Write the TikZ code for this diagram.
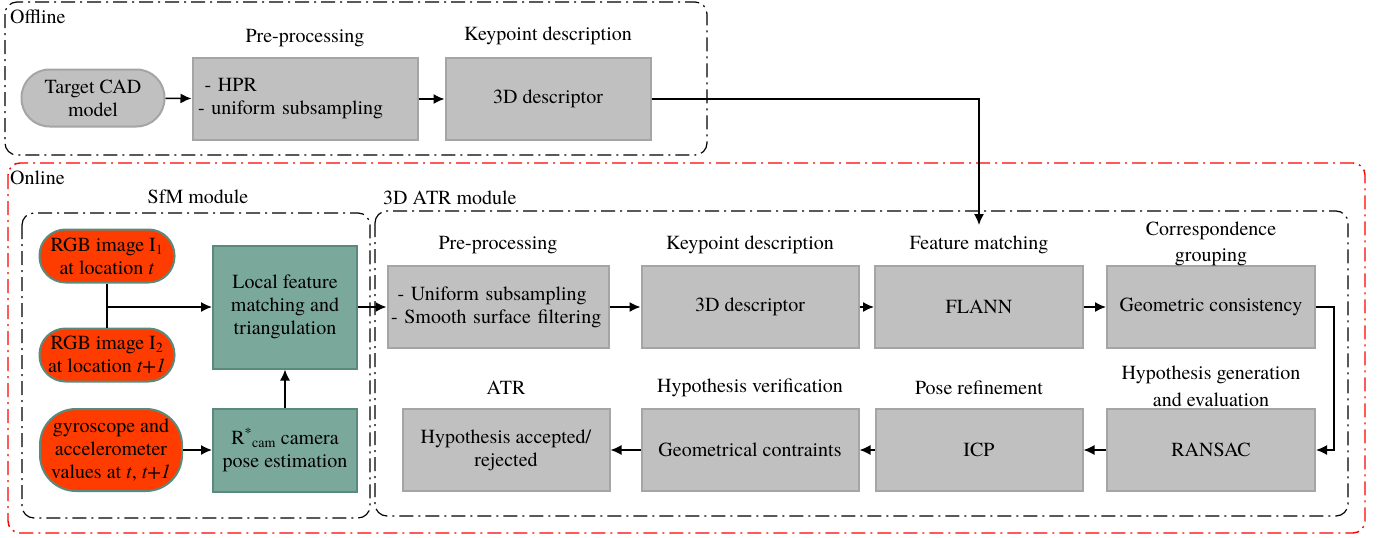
\documentclass[tikz,border=0pt]{standalone}
\usepackage{fontspec}
\setmainfont{TeX Gyre Termes}
\usetikzlibrary{arrows.meta}
\definecolor{boxgrey}{RGB}{192,192,192}
\definecolor{boxedge}{RGB}{165,165,165}
\definecolor{imgred}{RGB}{255,60,0}
\definecolor{tealfill}{RGB}{122,168,154}
\definecolor{tealedge}{RGB}{90,138,125}
\tikzset{
  gbox/.style={draw=boxedge, fill=boxgrey, line width=2pt, minimum width=207pt, minimum height=82pt, align=center, inner sep=0pt},
  tbox/.style={draw=tealedge, fill=tealfill, line width=2pt, minimum width=144pt, align=center, inner sep=0pt},
  inbox/.style={draw=tealedge, fill=imgred, line width=2pt, minimum width=135pt, minimum height=53pt, rounded corners=26pt, align=center, inner sep=0pt},
  arr/.style={line width=1.5pt, -{Latex[length=11pt,width=10pt]}},
  frame/.style={line width=1.2pt, rounded corners=12pt, dash pattern=on 14pt off 5pt on 2pt off 5pt},
}
\begin{document}
\begin{tikzpicture}[x=1pt, y=-1pt, font=\fontsize{20}{23}\selectfont]
  \useasboundingbox (0,0) rectangle (1379,538);
  % containers
  \draw [frame] (5,2) rectangle (707,155);
  \draw [frame, red, line width=1.4pt] (8,163) rectangle (1365,533);
  \draw [frame] (22,213) rectangle (370,518);
  \draw [frame] (375,211) rectangle (1348,516);
  \node [anchor=west, inner sep=0pt] (offl) at (10,17) {Offline};
  \node [anchor=west, inner sep=0pt] (onl) at (10,178) {Online};
  \node (sfml) at (198,197) {SfM module};
  \node [anchor=west, inner sep=0pt] (atrl) at (383,198) {3D ATR module};

  % offline chain
  \node [gbox, minimum width=143pt, minimum height=57pt, rounded corners=28pt] (cad) at (93,98) {Target CAD\\model};
  \node [gbox, minimum width=225pt, text width=214pt, align=left] (opre) at (305,99) {~- HPR\\- uniform subsampling};
  \node [gbox, minimum width=205pt] (odesc) at (548,99) {3D descriptor};
  \node (oprel) at (305,38) {Pre-processing};
  \node (odescl) at (548,36) {Keypoint description};

  % SfM module
  \node [inbox] (img1) at (107,256) {RGB image I\textsubscript{1}\\at location \textit{t}};
  \node [inbox] (img2) at (107,355) {RGB image I\textsubscript{2}\\at location \textit{t+1}};
  \node [inbox, minimum width=142pt, minimum height=82pt, rounded corners=36pt] (gyro) at (111,450) {gyroscope and\\accelerometer\\values at \textit{t}, \textit{t+1}};
  \node [tbox, minimum height=123pt] (lfm) at (285,307) {Local feature\\matching and\\triangulation};
  \node [tbox, minimum height=83pt] (rcam) at (285,450) {R\textsuperscript{*}\textsubscript{cam} camera\\pose estimation};
  \coordinate (imgmid) at (107,307);

  % 3D ATR module
  \node [gbox, minimum width=221pt, text width=214pt, align=left] (apre) at (498,307) {~- Uniform subsampling\\- Smooth surface filtering};
  \node [gbox, minimum width=217pt] (adesc) at (750,307) {3D descriptor};
  \node [gbox, minimum width=208pt] (flann) at (979,307) {FLANN};
  \node [gbox, minimum width=208pt] (gc) at (1211,307) {Geometric consistency};
  \node [gbox] (hyp) at (506,450) {Hypothesis accepted/\\rejected};
  \node [gbox, minimum width=217pt] (geo) at (750,450) {Geometrical contraints};
  \node [gbox] (icp) at (979,450) {ICP};
  \node [gbox, minimum width=208pt] (ransac) at (1211,450) {RANSAC};
  \node (aprel) at (498,245) {Pre-processing};
  \node (adescl) at (750,245) {Keypoint description};
  \node (flannl) at (979,245) {Feature matching};
  \node [align=center, font=\fontsize{20}{26}\selectfont] (gcl) at (1211,244) {Correspondence\\grouping};
  \node (hypl) at (506,388) {ATR};
  \node (geol) at (750,388) {Hypothesis verification};
  \node (icpl) at (979,388) {Pose refinement};
  \node [align=center, font=\fontsize{20}{27}\selectfont] (ransacl) at (1211,386) {Hypothesis generation\\and evaluation};
  \coordinate (fmin) at (979,225);

  % connectors
  \draw [arr] (cad) -- (opre);
  \draw [arr] (opre) -- (odesc);
  \draw [arr] (odesc.east) -| (fmin);
  \draw [line width=1.5pt] (img1) -- (img2);
  \draw [arr] (imgmid) -- (lfm);
  \draw [arr] (gyro) -- (rcam);
  \draw [arr] (rcam) -- (lfm);
  \draw [arr] (lfm) -- (apre);
  \draw [arr] (apre) -- (adesc);
  \draw [arr] (adesc) -- (flann);
  \draw [arr] (flann) -- (gc);
  \draw [arr] (gc.east) -- ++(18,0) |- (ransac.east);
  \draw [arr] (ransac) -- (icp);
  \draw [arr] (icp) -- (geo);
  \draw [arr] (geo) -- (hyp);
\end{tikzpicture}
\end{document}
